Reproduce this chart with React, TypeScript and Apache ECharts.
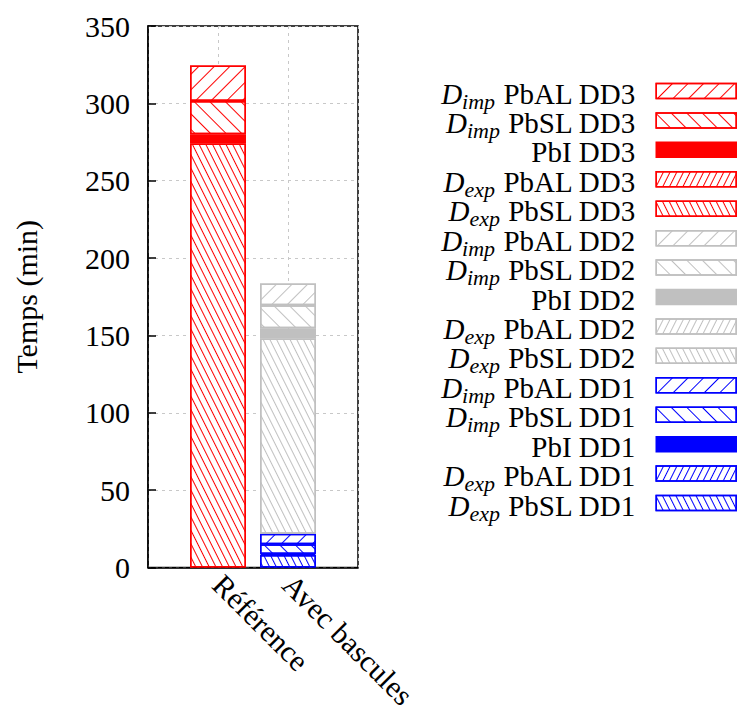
import React, { useEffect, useRef } from 'react';
import * as echarts from 'echarts';

// Categories (x axis)
const categories = ['Référence', 'Avec bascules'];

// Stack components, bottom to top inside each DD group
const components = ['Dexp PbSL', 'Dexp PbAL', 'PbI', 'Dimp PbSL', 'Dimp PbAL'];
const groups = ['DD1', 'DD2', 'DD3'];

// Values (minutes) per group, in component order: [Référence, Avec bascules]
const dd1Reference = [0, 0, 0, 0, 0];
const dd1Bascules = [8, 0, 0.7, 6.3, 6.8];
const dd2Reference = [0, 0, 0, 0, 0];
const dd2Bascules = [126.2, 0, 6.7, 14.8, 14];
const dd3Reference = [274, 0, 6, 21.5, 23];
const dd3Bascules = [0, 0, 0, 0, 0];

const yTicks = { min: 0, max: 350, step: 50 };

const FONT = 'Liberation Serif';
const groupColors: Record<string, string> = { DD1: '#0000ff', DD2: '#c0c0c0', DD3: '#ff0000' };

function decalFor(comp: string, color: string): any {
  const base = { symbol: 'rect', symbolSize: 1, dashArrayX: [[20, 0]], color, backgroundColor: '#ffffff' };
  if (comp === 'Dexp PbSL') return { ...base, dashArrayY: [1, 5], rotation: 1.107 };
  if (comp === 'Dexp PbAL') return { ...base, dashArrayY: [1, 5], rotation: -1.107 };
  if (comp === 'Dimp PbSL') return { ...base, dashArrayY: [1, 10], rotation: Math.PI / 4 };
  if (comp === 'Dimp PbAL') return { ...base, dashArrayY: [1, 10], rotation: -Math.PI / 4 };
  return undefined;
}

const groupData: Record<string, [number[], number[]]> = {
  DD1: [dd1Reference, dd1Bascules],
  DD2: [dd2Reference, dd2Bascules],
  DD3: [dd3Reference, dd3Bascules],
};

export default function App() {
  const ref = useRef<HTMLDivElement>(null);
  useEffect(() => {
    if (!ref.current) return;
    const chart = echarts.init(ref.current, undefined, { renderer: 'svg' });
    // padded slots so that the frame spans half a bar spacing beyond each bar
    const axisSlots = ['', ...categories, ''];
    const series: any[] = [];
    const names: string[] = [];
    groups.forEach((g) => {
      const [refVals, basVals] = groupData[g];
      const color = groupColors[g];
      components.forEach((comp, ci) => {
        const name = `${comp} ${g}`;
        names.push(name);
        const hidden = { value: 0, itemStyle: { borderWidth: 0, opacity: 0 } };
        const item = (v: number) => (v > 0 ? { value: v } : hidden);
        const decal = decalFor(comp, color);
        series.push({
          type: 'bar',
          name,
          stack: 'total',
          barWidth: 56,
          data: [hidden, item(refVals[ci]), item(basVals[ci]), hidden],
          itemStyle: {
            color: comp === 'PbI' ? color : '#ffffff',
            borderColor: color,
            borderWidth: 1.5,
            ...(decal ? { decal } : {}),
          },
          emphasis: { disabled: true },
        });
      });
    });

    const legendOrder = names.slice().reverse();

    chart.setOption({
      animation: false,
      textStyle: { fontFamily: FONT },
      grid: {
        left: 148, top: 26, width: 210, height: 541.5,
        show: true, borderColor: '#000', borderWidth: 1.5,
      },
      xAxis: {
        type: 'category', data: axisSlots, boundaryGap: false,
        axisLine: { show: true, onZero: false, lineStyle: { color: '#000', width: 1.5 } },
        axisTick: { show: false },
        splitLine: { show: true, interval: 0, lineStyle: { color: '#c8c8c8', type: [3, 4], width: 1 } },
        axisLabel: {
          rotate: -45, margin: 12, fontSize: 30, color: '#000', fontFamily: FONT, interval: 0,
        },
      },
      yAxis: {
        type: 'value', min: yTicks.min, max: yTicks.max, interval: yTicks.step,
        name: 'Temps (min)', nameLocation: 'middle', nameGap: 107,
        nameTextStyle: { fontSize: 30, color: '#000', fontFamily: FONT },
        axisLine: { show: true, onZero: false, lineStyle: { color: '#000', width: 1.5 } },
        axisTick: { show: true, inside: true, length: 8, lineStyle: { color: '#000', width: 1.5 } },
        axisLabel: { margin: 18, fontSize: 30, color: '#000', fontFamily: FONT },
        splitLine: { show: true, lineStyle: { color: '#c8c8c8', type: [3, 4], width: 1 } },
      },
      legend: {
        orient: 'vertical', right: 1, top: 79, padding: 0, icon: 'rect',
        itemWidth: 80, itemHeight: 15, itemGap: -3.57, align: 'right',
        data: legendOrder,
        itemStyle: { borderWidth: 1.5 },
        formatter: (name: string) => {
          const m = name.match(/^D(imp|exp) (.*)$/);
          if (m) return `{d|D}{s|${m[1]}}{t| ${m[2]}}{g| }`;
          return `{t|${name}}{g| }`;
        },
        textStyle: {
          fontFamily: FONT, fontSize: 29, color: '#000',
          rich: {
            d: { fontFamily: FONT, fontStyle: 'italic', fontSize: 29, lineHeight: 24, verticalAlign: 'top', color: '#000' },
            s: { fontFamily: FONT, fontStyle: 'italic', fontSize: 22, lineHeight: 18, padding: [11, 0, 0, 0], verticalAlign: 'top', color: '#000' },
            t: { fontFamily: FONT, fontSize: 29, lineHeight: 24, verticalAlign: 'top', color: '#000' },
            g: { fontFamily: FONT, fontSize: 22, width: 16, lineHeight: 18, padding: [11, 0, 0, 0], verticalAlign: 'top' },
          },
        },
      },
      series,
    });
    return () => chart.dispose();
  }, []);
  return <div ref={ref} style={{ position: 'absolute', left: 0, top: 0, width: 738, height: 720 }} />;
}
